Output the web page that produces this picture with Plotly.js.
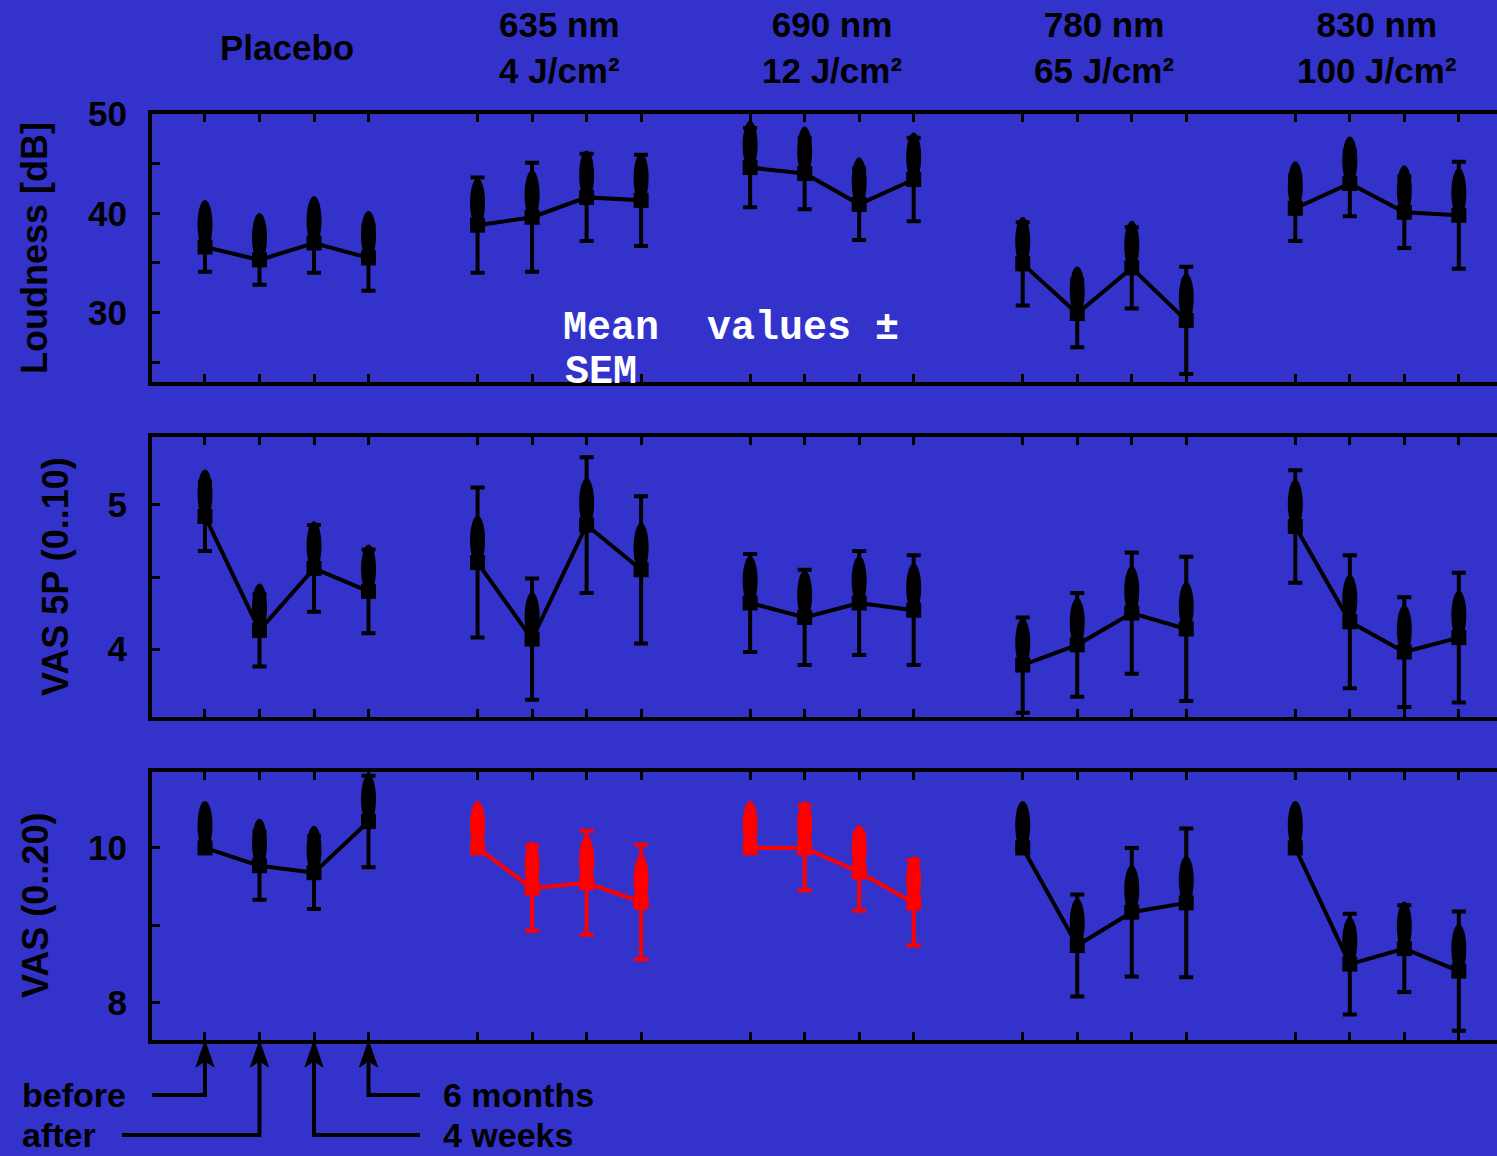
<!DOCTYPE html>
<html><head><meta charset="utf-8">
<script src="https://cdn.plot.ly/plotly-3.0.1.min.js"></script>
<style>html,body{margin:0;padding:0;background:#3333cc;} #chart{width:1497px;height:1156px;}</style>
</head><body><div id="chart"></div>
<script>
// ---------------- data ----------------
const groupLabels = ['Placebo', '635 nm<br>4 J/cm²', '690 nm<br>12 J/cm²', '780 nm<br>65 J/cm²', '830 nm<br>100 J/cm²'];
const timeLabels = ['before', 'after', '4 weeks', '6 months'];

const loudnessMean = [[36.6, 35.3, 37.0, 35.5], [38.8, 39.6, 41.6, 41.3], [44.6, 44.0, 40.9, 43.4], [34.9, 29.9, 34.5, 29.2], [40.5, 43.0, 40.1, 39.8]];
const loudnessSem  = [[2.5, 2.5, 3.0, 3.3], [4.8, 5.5, 4.4, 4.6], [4.0, 3.6, 3.6, 4.2], [4.2, 3.4, 4.1, 5.4], [3.3, 3.3, 3.6, 5.4]];

const vas5Mean = [[4.92, 4.13, 4.56, 4.40], [4.60, 4.07, 4.86, 4.55], [4.32, 4.22, 4.32, 4.27], [3.89, 4.03, 4.25, 4.14], [4.85, 4.19, 3.98, 4.08]];
const vas5Sem  = [[0.24, 0.25, 0.30, 0.29], [0.52, 0.42, 0.47, 0.51], [0.34, 0.33, 0.36, 0.38], [0.33, 0.36, 0.42, 0.50], [0.39, 0.46, 0.38, 0.45]];

const vas20Mean = [[10.0, 9.77, 9.68, 10.34], [10.0, 9.48, 9.55, 9.30], [10.0, 10.0, 9.69, 9.29], [10.0, 8.74, 9.17, 9.29], [10.0, 8.50, 8.70, 8.41]];
const vas20Sem  = [[0.0, 0.44, 0.47, 0.59], [0.0, 0.55, 0.67, 0.74], [0.0, 0.55, 0.50, 0.55], [0.0, 0.66, 0.83, 0.96], [0.0, 0.65, 0.56, 0.77]];

// ---------------- style / layout ----------------
const W = 1497, H = 1156;
const BG = '#3333cc';
const FONT = 'Liberation Sans, Arial, sans-serif';
const xRange = [0.028, 24.70];
const xDomain = [152 / W, 1];
function xpos(g, t) { return g * 5 + t + 1; }
function pxY(py) { return 1 - py / H; }
function pxX(px) { return px / W; }

const panels = [
  { mean: loudnessMean, sem: loudnessSem, range: [23.0, 50.0], dtick: 10, minor: 5, dom: [pxY(382), pxY(114)], title: 'Loudness [dB]', titleX: 35, colors: ['black','black','black','black','black'] },
  { mean: vas5Mean, sem: vas5Sem, range: [3.53, 5.47], dtick: 1, minor: 0.5, dom: [pxY(717), pxY(437)], title: 'VAS 5P (0..10)', titleX: 55, colors: ['black','black','black','black','black'] },
  { mean: vas20Mean, sem: vas20Sem, range: [7.52, 10.98], dtick: 2, minor: 1, dom: [pxY(1040), pxY(772)], title: 'VAS (0..20)', titleX: 35, colors: ['black','#ff0000','#ff0000','black','black'] }
];

const allX = [];
for (let g = 0; g < groupLabels.length; g++) for (let t = 0; t < timeLabels.length; t++) allX.push(xpos(g, t));

const traces = [], shapes = [], annotations = [];
const layout = {
  width: W, height: H,
  paper_bgcolor: BG, plot_bgcolor: BG,
  margin: { l: 0, r: 0, t: 0, b: 0 },
  showlegend: false,
  font: { family: FONT, color: 'black' }
};

panels.forEach((p, i) => {
  const s = i === 0 ? '' : String(i + 1);
  layout['xaxis' + s] = {
    domain: xDomain, range: xRange, anchor: 'y' + s,
    tickvals: allX, ticks: 'inside', ticklen: 8, tickwidth: 3, tickcolor: 'black',
    showticklabels: false, showline: true, linecolor: 'black', linewidth: 4,
    mirror: 'ticks', showgrid: false, zeroline: false, fixedrange: true
  };
  layout['yaxis' + s] = {
    domain: p.dom, range: p.range, anchor: 'x' + s,
    dtick: p.dtick, tick0: 0, ticks: 'inside', ticklen: 8, tickwidth: 3, tickcolor: 'black',
    minor: { dtick: p.minor, tick0: 0, ticks: 'inside', ticklen: 8, tickwidth: 3, tickcolor: 'black', showgrid: false },
    tickfont: { family: FONT, size: 35, weight: 'bold', color: 'black' },
    ticklabelstandoff: 14,
    showline: true, linecolor: 'black', linewidth: 4, mirror: false,
    showgrid: false, zeroline: false, fixedrange: true
  };
  annotations.push({
    text: p.title, textangle: -90, xref: 'paper', yref: 'paper',
    x: pxX(p.titleX), y: (p.dom[0] + p.dom[1]) / 2, xanchor: 'center', yanchor: 'middle',
    showarrow: false, font: { family: FONT, size: 36, weight: 'bold', color: 'black' }
  });
  groupLabels.forEach((gl, g) => {
    const xs = timeLabels.map((_, t) => xpos(g, t));
    const c = p.colors[g];
    traces.push({
      type: 'scatter', mode: 'lines+markers', xaxis: 'x' + s, yaxis: 'y' + s,
      x: xs, y: p.mean[g], name: gl.replace('<br>', ' '),
      line: { color: c, width: 4 },
      marker: { symbol: 'square', size: 15, color: c },
      error_y: { type: 'data', array: p.sem[g], visible: true, color: c, thickness: 4, width: 7 },
      cliponaxis: true
    });
    xs.forEach((xv, t) => {
      shapes.push({
        type: 'circle', xref: 'x' + s, yref: 'y' + s,
        xsizemode: 'pixel', ysizemode: 'pixel',
        xanchor: xv, yanchor: p.mean[g][t],
        x0: -7.5, x1: 7.5, y0: -2, y1: 47,
        fillcolor: c, line: { width: 0 }, layer: 'above'
      });
    });
  });
});

// group headers
groupLabels.forEach((gl, g) => {
  annotations.push({
    text: gl, xref: 'x', yref: 'paper', x: xpos(g, 1.5), y: pxY(48),
    xanchor: 'center', yanchor: 'middle', showarrow: false,
    font: { family: FONT, size: 35, weight: 'bold', color: 'black' }
  });
});

// Mean values ± SEM
annotations.push({
  text: 'Mean\u00a0\u00a0values\u00a0±', xref: 'paper', yref: 'paper', x: pxX(561), y: pxY(328),
  xanchor: 'left', yanchor: 'middle', showarrow: false,
  font: { family: 'Liberation Mono, Courier New, monospace', size: 40, weight: 'bold', color: 'white' }
});
annotations.push({
  text: 'SEM', xref: 'paper', yref: 'paper', x: pxX(563), y: pxY(372),
  xanchor: 'left', yanchor: 'middle', showarrow: false,
  font: { family: 'Liberation Mono, Courier New, monospace', size: 40, weight: 'bold', color: 'white' }
});

// time legend (arrows pointing to the time positions)
const legendRows = [1095, 1135, 1135, 1095];      // y in px of each leader line
const legendEnds = [152, 122, 420, 420];          // far end of horizontal leader (px)
const legendTextX = [20, 20, 441, 441];
const legendTextY = [1095, 1135, 1135, 1095];
function dataToPx(xv) { return 152 + (xv - xRange[0]) / (xRange[1] - xRange[0]) * (W - 152); }
function P(px, py) { return pxX(px).toFixed(5) + ',' + pxY(py).toFixed(5); }
timeLabels.forEach((tl, t) => {
  const xp = dataToPx(xpos(0, t));
  const row = legendRows[t];
  shapes.push({
    type: 'path', xref: 'paper', yref: 'paper',
    path: 'M' + P(legendEnds[t], row) + 'L' + P(xp, row) + 'L' + P(xp, 1058),
    line: { color: 'black', width: 4 }
  });
  shapes.push({
    type: 'path', xref: 'paper', yref: 'paper',
    path: 'M' + P(xp, 1041) + 'L' + P(xp + 9, 1067) + 'L' + P(xp, 1061) + 'L' + P(xp - 9, 1067) + 'Z',
    fillcolor: 'black', line: { color: 'black', width: 1 }
  });
  annotations.push({
    text: tl, xref: 'paper', yref: 'paper', x: pxX(legendTextX[t]), y: pxY(legendTextY[t]),
    xanchor: 'left', yanchor: 'middle', showarrow: false,
    font: { family: FONT, size: 34, weight: 'bold', color: 'black' }
  });
});

layout.shapes = shapes;
layout.annotations = annotations;
Plotly.newPlot('chart', traces, layout, { staticPlot: true, displayModeBar: false });
</script>
</body></html>
